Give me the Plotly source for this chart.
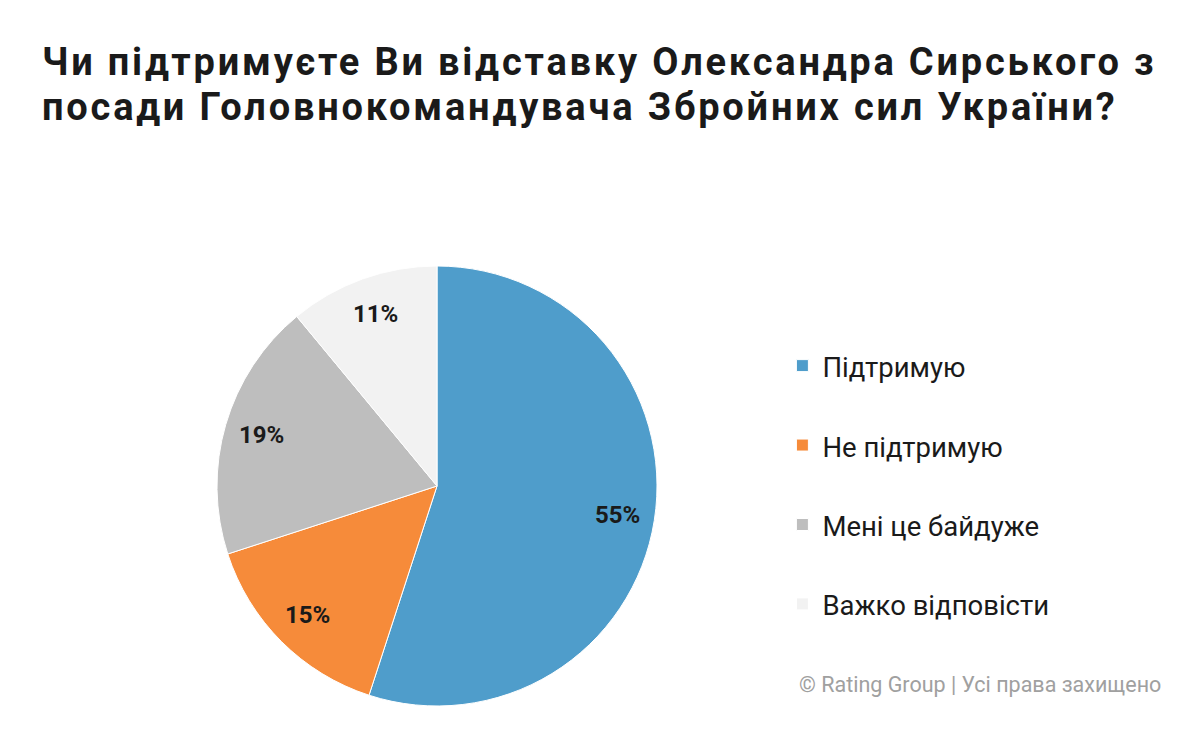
import math
import plotly.graph_objects as go

labels = ["Підтримую", "Не підтримую", "Мені це байдуже", "Важко відповісти"]
values = [55, 15, 19, 11]
colors = ["#4F9DCB", "#F68B3A", "#BEBEBE", "#F2F2F2"]
title_lines = ["Чи підтримуєте Ви відставку Олександра Сирського з",
               "посади Головнокомандувача Збройних сил України?"]
credit = "© Rating Group | Усі права захищено"

W, H = 1200, 738
cx, cy, r = 437, 486, 220

legend_labels = ["<span style='font-size:27.5px'>%s</span><br> " % l for l in labels]

fig = go.Figure(go.Pie(
    labels=legend_labels,
    values=values,
    sort=False,
    direction="clockwise",
    rotation=0,
    marker=dict(colors=colors, line=dict(color="#FFFFFF", width=1)),
    textinfo="none",
    hoverinfo="skip",
    domain=dict(x=[(cx - r) / W, (cx + r) / W], y=[1 - (cy + r) / H, 1 - (cy - r) / H]),
))

fig.update_layout(
    width=W, height=H,
    margin=dict(l=0, r=0, t=0, b=0),
    paper_bgcolor="#FFFFFF",
    plot_bgcolor="#FFFFFF",
    font=dict(family="Roboto", color="#1A1A1A"),
    showlegend=True,
    legend=dict(
        x=0.652, y=1 - 340 / H, xanchor="left", yanchor="top",
        font=dict(family="Roboto", size=29.4, color="#1A1A1A"),
        valign="top",
        bgcolor="rgba(0,0,0,0)",
    ),
)

# percentage labels placed at each slice's mid-angle (derived from the values)
total = sum(values)
cum = 0
for v in values:
    mid = (cum + v / 2) / total * 2 * math.pi
    cum += v
    rr = 0.83 * r
    px = cx + rr * math.sin(mid)
    py = cy - rr * math.cos(mid)
    fig.add_annotation(
        text="<b>%d%%</b>" % round(v / total * 100), x=px / W, y=1 - py / H,
        xref="paper", yref="paper", xanchor="center", yanchor="middle",
        showarrow=False, font=dict(family="Roboto", size=24, color="#1A1A1A"),
    )

for i, line in enumerate(title_lines):
    fig.add_annotation(
        text="<b><span style='letter-spacing:2.8px'>%s</span></b>" % line, x=40 / W, y=1 - (62 + 45 * i) / H,
        xref="paper", yref="paper", xanchor="left", yanchor="middle",
        showarrow=False, font=dict(family="Roboto", size=38, color="#1A1A1A"),
    )

fig.add_annotation(
    text=credit, x=1163 / W, y=1 - 684 / H, xref="paper", yref="paper",
    xanchor="right", yanchor="middle", showarrow=False,
    font=dict(family="Roboto", size=21.5, color="#A0A0A0"),
)

fig.write_html("out.html")
